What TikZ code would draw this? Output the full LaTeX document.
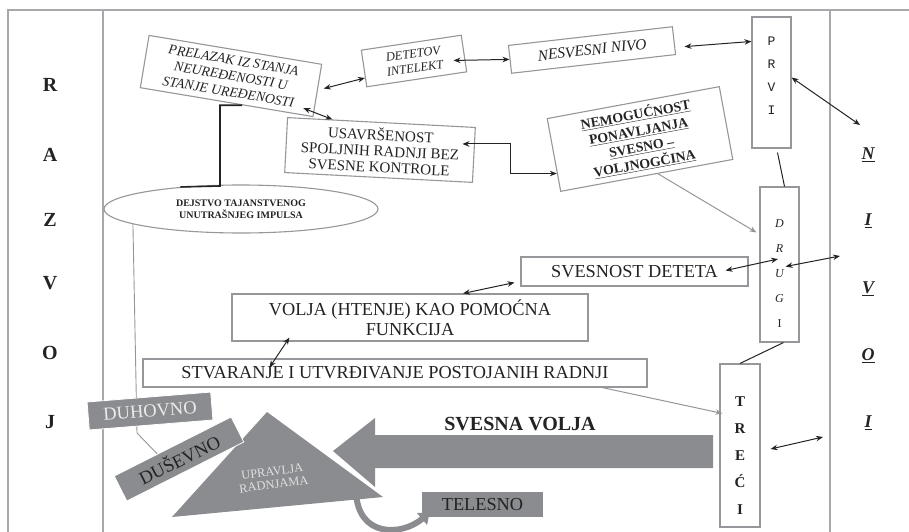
\documentclass[tikz,border=0pt]{standalone}
\usepackage{fontspec}
\setmainfont{Liberation Serif}
\newfontfamily\monofont{Liberation Mono}
\usetikzlibrary{calc, arrows.meta, shapes.geometric, backgrounds}

\definecolor{framegray}{RGB}{168,168,172}
\definecolor{boxgray}{RGB}{150,150,155}
\definecolor{shapegray}{RGB}{139,140,144}
\definecolor{ink}{RGB}{35,35,35}
\definecolor{lightink}{RGB}{150,150,152}

\tikzset{
  box/.style={draw=boxgray, line width=1.1pt, inner sep=0pt, align=center, text=ink},
  graybox/.style={fill=shapegray, draw=white, line width=0.8pt, inner sep=0pt, align=center},
  dbl/.style={{Stealth[length=7pt,width=5.5pt]}-{Stealth[length=7pt,width=5.5pt]}, draw=ink, line width=1pt},
  grayarr/.style={-{Stealth[length=7pt,width=5.5pt]}, draw=lightink, line width=1pt},
  lvl/.style={font=\fontsize{20}{20}\selectfont\bfseries, text=ink},
  nivo/.style={font=\fontsize{18}{18}\selectfont\bfseries\itshape, text=ink},
}

\begin{document}
\begin{tikzpicture}[x=1pt, y=-1pt]
  \useasboundingbox (0,0) rectangle (909,532);

  % frame and columns
  \draw[framegray, line width=1.4pt] (8,532) -- (8,10) -- (909,10);
  \draw[framegray, line width=1.2pt] (103,10) -- (103,532);
  \draw[framegray, line width=1.2pt] (830,10) -- (830,532);

  % RAZVOJ on the left, NIVOI on the right
  \foreach \l/\y in {R/85, A/155, Z/220, V/283, O/353, J/422}
    \node[lvl] (raz\l) at (50,\y) {\l};
  \foreach \l/\y [count=\i] in {N/155, I/221, V/289, O/356, I/423}
    \node[nivo] (niv\i) at (868,\y) {\underline{\l}};

  % level boxes
  \node[box, minimum width=39pt, minimum height=131pt] (prvi) at (771.5,82.5) {};
  \node[font=\monofont\fontsize{13}{23}\selectfont, align=center, text=ink] (prviT) at (771.5,76) {P\\R\\V\\I};
  \node[box, minimum width=39pt, minimum height=155pt] (drugi) at (779.5,264.5) {};
  \node[font=\fontsize{12}{25}\selectfont\itshape, align=center, text=ink] (drugiT) at (779.5,273.5) {D\\R\\U\\G\\\upshape I};
  \node[box, minimum width=40pt, minimum height=163pt] (treci) at (740,445.5) {};
  \node[font=\fontsize{15}{27}\selectfont\bfseries, align=center, text=ink] (treciT) at (740,455.5) {T\\R\\E\\Ć\\I};

  % upper boxes
  \node[box, rotate=6.5, minimum width=165pt, minimum height=28pt,
        font=\fontsize{15.5}{16}\selectfont\itshape] (nesvesni) at (592,50) {NESVESNI NIVO};
  \node[box, rotate=8.5, minimum width=101pt, minimum height=37pt,
        font=\fontsize{12.5}{14.5}\selectfont\itshape] (detetov) at (414,61) {DETETOV\\INTELEKT};
  \node[box, rotate=-9.5, minimum width=175pt, minimum height=53pt,
        font=\fontsize{13.8}{16}\selectfont\itshape] (prelazak) at (231,76) {PRELAZAK IZ STANJA\\NEUREĐENOSTI U\\STANJE UREĐENOSTI};
  \node[box, rotate=-3, minimum width=188pt, minimum height=55pt,
        font=\fontsize{15}{16}\selectfont] (usavr) at (380,150) {USAVRŠENOST\\SPOLJNIH RADNJI BEZ\\SVESNE KONTROLE};
  \node[box, rotate=10.5, minimum width=175pt, minimum height=74pt,
        font=\fontsize{13.8}{16.5}\selectfont\bfseries] (nemog) at (640,139)
        {\underline{NEMOGUĆNOST}\\\underline{PONAVLJANJA}\\\underline{SVESNO –}\\\underline{VOLJNOGČINA}};
  \node[box, ellipse, minimum width=274pt, minimum height=48pt,
        font=\fontsize{10}{12}\selectfont\bfseries] (impuls) at (241,209) {DEJSTVO TAJANSTVENOG\\UNUTRAŠNJEG IMPULSA};

  % middle boxes
  \node[box, minimum width=227pt, minimum height=29pt, font=\fontsize{18.3}{20}\selectfont] (svesnost) at (634.5,271.5) {SVESNOST DETETA};
  \node[box, minimum width=356pt, minimum height=47pt, font=\fontsize{18.3}{20.5}\selectfont] (volja) at (410,317.5) {VOLJA (HTENJE) KAO POMOĆNA\\FUNKCIJA};
  \node[box, minimum width=504pt, minimum height=28pt, font=\fontsize{18.3}{20}\selectfont] (stvaranje) at (395,373) {STVARANJE I UTVRĐIVANJE POSTOJANIH RADNJI};

  % thick elbow from PRELAZAK to the ellipse
  \coordinate (pz) at ($(prelazak.south)!0.18!(prelazak.south east)$);
  \coordinate (bend) at (220,186);
  \draw[ink, line width=1.6pt] (pz) -| (bend) -- (impuls.160);

  % triangle and big arrow
  \fill[shapegray] (267,412) -- (383,497) -- (172,517) -- cycle;
  \node[font=\fontsize{12.5}{13}\selectfont, text=white!88!black, rotate=7.5, align=center] (upr) at (273,478) {UPRAVLJA\\RADNJAMA};
  \fill[shapegray] (333,451) -- (375,418) -- (375,435) -- (713,435) -- (713,468) -- (375,468) -- (375,487) -- cycle;
  \node[font=\fontsize{20}{20}\selectfont\bfseries, text=ink] (volja2) at (520,424) {SVESNA VOLJA};

  % gray boxes
  \node[graybox, rotate=4.6, minimum width=124pt, minimum height=28pt,
        font=\fontsize{18.5}{20}\selectfont, text=white!92!black] (duhovno) at (150,411) {DUHOVNO};
  \node[graybox, rotate=26.8, minimum width=131pt, minimum height=28pt,
        font=\fontsize{18.5}{20}\selectfont, text=ink] (dusevno) at (179,459) {DUŠEVNO};
  \node[graybox, draw=none, minimum width=121pt, minimum height=25pt,
        font=\fontsize{18.3}{20}\selectfont, text=ink] (telesno) at (482.5,504.5) {TELESNO};
  \draw[shapegray, line width=6pt, -{Triangle[length=10pt,width=15pt]}]
    (356,492) .. controls (358,538) and (402,536) .. ($(telesno.west)+(8,8)$);

  % thin gray line from the ellipse down to DUSEVNO, behind the boxes
  \begin{scope}[on background layer]
    \coordinate (kink) at (137,433);
    \draw[lightink, line width=0.9pt] (impuls.188) -- (kink) -- ($(dusevno.north west)!0.37!(dusevno.north east)$);
  \end{scope}

  % connectors
  \draw[dbl] ($(prelazak.east)+(6,-2)$) -- ($(detetov.west)!0.5!(detetov.south west)$);
  \draw[dbl] ($(detetov.east)+(-11,7)$) -- (nesvesni.west);
  \draw[dbl] ($(nesvesni.east)+(10,6)$) -- ($(prvi.north west)+(0,25)$);
  \coordinate (nArr) at (860,125);
  \draw[dbl] ($(prvi.east)+(0,-5)$) -- (nArr);
  \draw[ink, line width=1pt] ($(prvi.south)+(6,4)$) -- ($(drugi.north)+(5,0)$);
  \draw[ink, line width=1pt] ($(drugi.south)+(4,0)$) -- (treci.north);
  \coordinate (drArr) at (840,256);
  \draw[dbl] ($(drugi.east)+(-14,2)$) -- (drArr);
  \draw[dbl] ($(svesnost.east)+(-23,-1)$) -- ($(drugi.center)+(-1.5,-5.5)$);
  \coordinate (trArr) at (823,437);
  \draw[dbl] ($(treci.east)+(10,3.5)$) -- (trArr);
  \draw[dbl] ($(prelazak.south east)+(-10,-9)$) -- ($(usavr.north west)!0.48!(usavr.north)$);
  \coordinate (uE) at ($(usavr.east)+(-12,-11)$);
  \coordinate (nW) at ($(nemog.west)!0.5!(nemog.south west)$);
  \coordinate (elb) at (510,0);
  \draw[dbl] (uE) -- (uE -| elb) -- (nW -| elb) -- (nW);
  \draw[grayarr] ($(nemog.south)!0.13!(nemog.south east)$) -- ($(drugi.north west)+(-3,46)$);
  \draw[dbl] ($(svesnost.south west)+(-6,-4)$) -- ($(volja.north)+(53,0)$);
  \draw[dbl] ($(volja.south west)+(58,-4)$) -- ($(stvaranje.north west)+(127,9)$);
  \draw[grayarr] ($(stvaranje.south east)+(-50,-1)$) -- ($(treci.north west)+(3,50)$);
\end{tikzpicture}
\end{document}
